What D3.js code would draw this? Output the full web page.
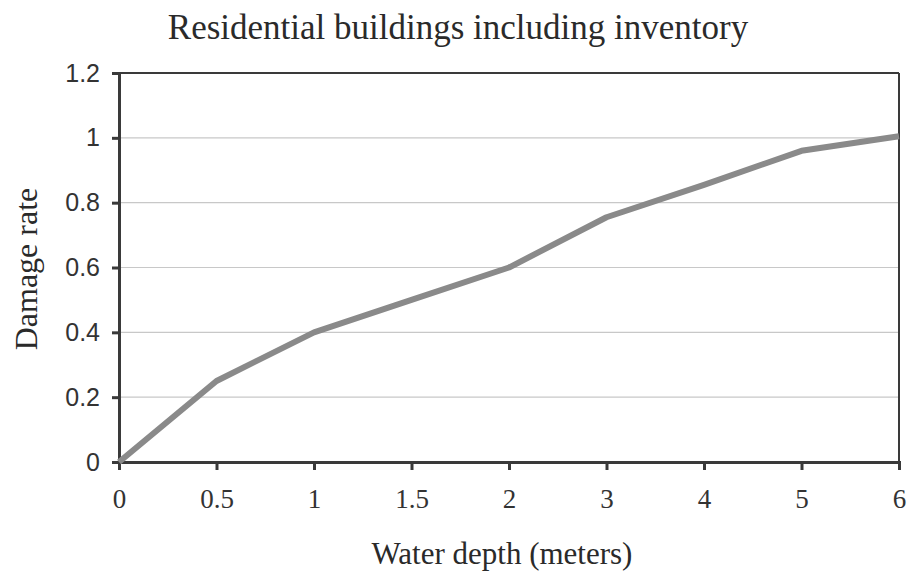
<!DOCTYPE html>
<html>
<head>
<meta charset="utf-8">
<script src="https://cdn.jsdelivr.net/npm/d3@7"></script>
<style>
  html, body { margin: 0; padding: 0; background: #fff; }
  svg { display: block; }
</style>
</head>
<body>
<svg id="chart" width="908" height="572"></svg>
<script>
// Water depth categories (equally spaced on the axis) and damage rates
const depths = ["0", "0.5", "1", "1.5", "2", "3", "4", "5", "6"];
const damage = [0, 0.25, 0.40, 0.50, 0.60, 0.755, 0.855, 0.96, 1.005];
const yTicks = [0, 0.2, 0.4, 0.6, 0.8, 1, 1.2];

const svg = d3.select("#chart");
const m = { left: 119, right: 9, top: 73, bottom: 110 };
const W = 908, H = 572;
const iw = W - m.left - m.right, ih = H - m.top - m.bottom;

const x = d3.scalePoint().domain(depths).range([0, iw]);
const y = d3.scaleLinear().domain([0, 1.2]).range([ih, 0]);

const serif = "'Liberation Serif', 'Times New Roman', serif";
const sans = "'Liberation Sans', Arial, sans-serif";

const g = svg.append("g").attr("transform", `translate(${m.left},${m.top})`);

// horizontal gridlines
g.append("g").selectAll("line")
  .data(yTicks.filter(t => t > 0 && t < 1.2))
  .join("line")
  .attr("x1", 0).attr("x2", iw)
  .attr("y1", d => y(d)).attr("y2", d => y(d))
  .attr("stroke", "#c8c8c8").attr("stroke-width", 1.2);

// frame: top and right
g.append("line").attr("x1", 0).attr("x2", iw).attr("y1", 0).attr("y2", 0)
  .attr("stroke", "#3a3a3a").attr("stroke-width", 2);
g.append("line").attr("x1", iw).attr("x2", iw).attr("y1", 0).attr("y2", ih)
  .attr("stroke", "#3a3a3a").attr("stroke-width", 2);

// y axis
const yAxis = g.append("g")
  .call(d3.axisLeft(y).tickValues(yTicks).tickSize(7).tickPadding(12).tickFormat(d3.format("~g")));
yAxis.select(".domain").attr("stroke", "#3a3a3a").attr("stroke-width", 3);
yAxis.selectAll(".tick line").attr("stroke", "#3a3a3a").attr("stroke-width", 3);
yAxis.selectAll(".tick text")
  .attr("font-family", sans)
  .attr("font-size", 25).attr("fill", "#333");

// x axis
const xAxis = g.append("g").attr("transform", `translate(0,${ih})`)
  .call(d3.axisBottom(x).tickSize(8).tickPadding(19));
xAxis.select(".domain").attr("stroke", "#3a3a3a").attr("stroke-width", 3);
xAxis.selectAll(".tick line").attr("stroke", "#3a3a3a").attr("stroke-width", 3);
xAxis.selectAll(".tick text")
  .attr("font-family", serif)
  .attr("font-size", 27).attr("fill", "#333");

// damage curve
g.append("path")
  .datum(damage)
  .attr("fill", "none")
  .attr("stroke", "#8a8a8a")
  .attr("stroke-width", 6)
  .attr("stroke-linejoin", "round")
  .attr("d", d3.line().x((d, i) => x(depths[i])).y(d => y(d)));

// titles
svg.append("text")
  .attr("x", 458).attr("y", 39)
  .attr("text-anchor", "middle")
  .attr("font-family", serif)
  .attr("font-size", 35).attr("fill", "#2a2a2a")
  .text("Residential buildings including inventory");

svg.append("text")
  .attr("x", 502).attr("y", 564)
  .attr("text-anchor", "middle")
  .attr("font-family", serif)
  .attr("font-size", 31).attr("fill", "#2a2a2a")
  .text("Water depth (meters)");

svg.append("text")
  .attr("transform", `translate(37,269) rotate(-90)`)
  .attr("text-anchor", "middle")
  .attr("font-family", serif)
  .attr("font-size", 32).attr("fill", "#2a2a2a")
  .text("Damage rate");
</script>
</body>
</html>
